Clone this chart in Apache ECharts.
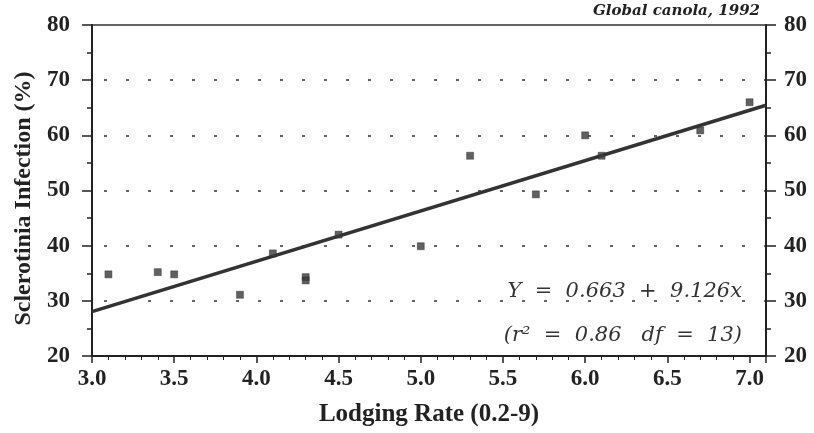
<!DOCTYPE html>
<html>
<head>
<meta charset="utf-8">
<script src="https://cdn.jsdelivr.net/npm/echarts@6/dist/echarts.min.js"></script>
<style>
html,body{margin:0;padding:0;background:#fff;}
#c{width:814px;height:433px;}
</style>
</head>
<body>
<div id="c"></div>
<script>
// Data
var lodgingRate = [3.1, 3.4, 3.5, 3.9, 4.1, 4.3, 4.3, 4.5, 5.0, 5.3, 5.7, 6.0, 6.1, 6.7, 7.0];
var infection   = [34.8, 35.2, 34.8, 31.1, 38.6, 34.3, 33.7, 42.0, 39.9, 56.3, 49.3, 60.0, 56.3, 60.9, 66.0];
var intercept = 0.663;
var slope = 9.126;
var lineX = [3.0, 7.1];
var xTicks = {min: 3.0, max: 7.1, interval: 0.5};
var yTicks = {min: 20, max: 80, interval: 10};
var titleText = 'Global canola, 1992';
var eqText1 = 'Y  =  0.663  +  9.126x';
var eqText2 = '(r\u00B2  =  0.86   df  =  13)';

var points = lodgingRate.map(function (x, i) { return [x, infection[i]]; });
var fitLine = lineX.map(function (x) { return [x, intercept + slope * x]; });

var serif = 'Liberation Serif';
var axisColor = '#222';
var labelStyle = {fontFamily: serif, fontWeight: 'bold', fontSize: 23, color: '#222'};

var chart = echarts.init(document.getElementById('c'));
chart.setOption({
  animation: false,
  backgroundColor: '#fff',
  grid: {left: 92, right: 48, top: 25, bottom: 77, containLabel: false, outerBoundsMode: 'none',
         show: true, borderColor: '#333', borderWidth: 1.5},
  xAxis: {
    type: 'value', min: xTicks.min, max: xTicks.max, interval: xTicks.interval,
    name: 'Lodging Rate (0.2-9)', nameLocation: 'middle', nameGap: 46,
    nameTextStyle: {fontFamily: serif, fontWeight: 'bold', fontSize: 25, color: '#222'},
    axisLine: {show: true, onZero: false, lineStyle: {color: axisColor, width: 2}},
    axisTick: {show: true, inside: false, length: 7, lineStyle: {color: axisColor, width: 1.5}},
    minorTick: {show: true, splitNumber: 5, length: 4, lineStyle: {color: axisColor, width: 1}},
    splitLine: {show: false},
    axisLabel: Object.assign({margin: 12, showMaxLabel: false, formatter: function (v) { return v.toFixed(1); }}, labelStyle)
  },
  yAxis: [{
    type: 'value', position: 'left', min: yTicks.min, max: yTicks.max, interval: yTicks.interval,
    name: 'Sclerotinia Infection (%)', nameLocation: 'middle', nameGap: 56,
    nameTextStyle: {fontFamily: serif, fontWeight: 'bold', fontSize: 24, color: '#222', padding: [0, 16, 0, 0]},
    axisLine: {show: true, lineStyle: {color: axisColor, width: 2}},
    axisTick: {show: true, length: 10, lineStyle: {color: axisColor, width: 1.5}},
    minorTick: {show: true, splitNumber: 2, length: 5, lineStyle: {color: axisColor, width: 1.5}},
    splitLine: {show: true, showMinLine: false, showMaxLine: false, lineStyle: {color: '#333', width: 1.5, type: [3, 19], dashOffset: -12}},
    axisLabel: Object.assign({margin: 22}, labelStyle)
  }, {
    type: 'value', position: 'right', min: yTicks.min, max: yTicks.max, interval: yTicks.interval,
    axisLine: {show: true, lineStyle: {color: axisColor, width: 2}},
    axisTick: {show: true, length: 10, lineStyle: {color: axisColor, width: 1.5}},
    minorTick: {show: true, splitNumber: 2, length: 5, lineStyle: {color: axisColor, width: 1.5}},
    splitLine: {show: false},
    axisLabel: Object.assign({margin: 18}, labelStyle)
  }],
  graphic: [
    {type: 'text', right: 54, top: 4, style: {text: titleText, font: 'italic bold 15px "DejaVu Serif"', fill: '#222'}},
    {type: 'text', right: 72, top: 281, style: {text: eqText1, font: 'italic 21px "DejaVu Serif"', fill: '#333'}},
    {type: 'text', right: 72, top: 325, style: {text: eqText2, font: 'italic 21px "DejaVu Serif"', fill: '#333'}}
  ],
  series: [{
    type: 'line', data: fitLine, symbol: 'none', silent: true,
    lineStyle: {color: '#333', width: 3.5}, z: 2
  }, {
    type: 'scatter', data: points, symbol: 'rect', symbolSize: 7,
    itemStyle: {color: '#3a3a3a', borderColor: '#222', borderWidth: 0.5}, z: 3
  }]
});
</script>
</body>
</html>
